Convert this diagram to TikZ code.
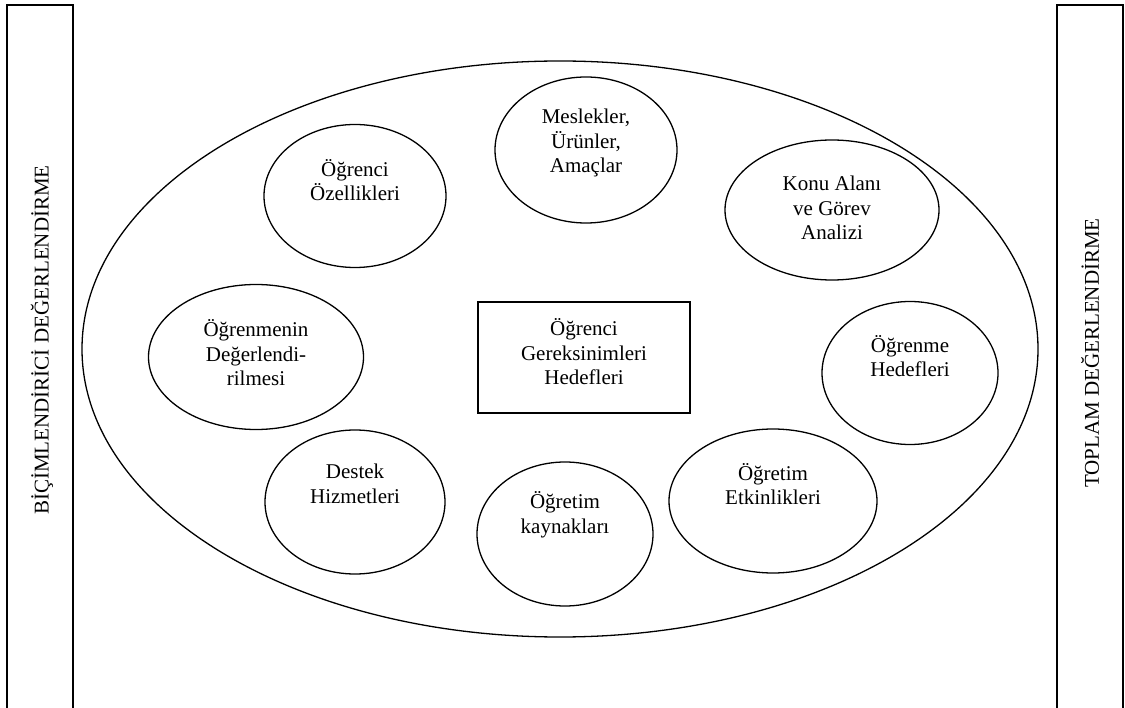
\documentclass[tikz,border=0pt]{standalone}
\usepackage{fontspec}
\setmainfont{Liberation Serif}
\usetikzlibrary{shapes.geometric}
\begin{document}
\begin{tikzpicture}[x=1pt,y=-1pt,
  bubble/.style 2 args={draw,ellipse,line width=1.3pt,inner sep=0pt,
    minimum width=#1,minimum height=#2},
  caption/.style={align=center,inner sep=0pt,font=\fontsize{21}{24.5}\selectfont},
  sidebox/.style={line width=2pt},
  sidetext/.style={rotate=90,inner sep=0pt,font=\fontsize{21}{24.5}\selectfont}]
\useasboundingbox (0,0) rectangle (1125,708);

% evaluation bands at both sides
\draw[sidebox] (7,708) -- (7,5) -- (73,5) -- (73,708);
\draw[sidebox] (1057,708) -- (1057,5) -- (1123,5) -- (1123,708);
\node[sidetext] (formative) at (42,340) {BİÇİMLENDİRİCİ DEĞERLENDİRME};
\node[sidetext] (summative) at (1090,353) {TOPLAM DEĞERLENDİRME};

% enclosing ellipse
\node[bubble={956}{576}] (outer) at (560,349) {};

% central box
\node[draw,line width=1.3pt,minimum width=212,minimum height=111,inner sep=0pt]
  (needs) at (584,357.5) {};
\node[caption] (needs-t) at (584,352) {Öğrenci\\Gereksinimleri\\Hedefleri};

% surrounding planning elements
\node[bubble={182}{146}] (meslek) at (586,150) {};
\node[caption] (meslek-t) at (586,143) {Meslekler,\\Ürünler,\\Amaçlar};

\node[bubble={182}{143}] (ozellik) at (355,196) {};
\node[caption] (ozellik-t) at (355,180) {Öğrenci\\Özellikleri};

\node[bubble={214}{140}] (konu) at (832,210) {};
\node[caption] (konu-t) at (832,208) {Konu Alanı\\ve Görev\\Analizi};

\node[bubble={215}{145}] (degerl) at (256,357) {};
\node[caption] (degerl-t) at (256,353) {Öğrenmenin\\Değerlendi-\\rilmesi};

\node[bubble={176}{143}] (hedef) at (910,373) {};
\node[caption] (hedef-t) at (910,356) {Öğrenme\\Hedefleri};

\node[bubble={180}{144}] (destek) at (355,502) {};
\node[caption] (destek-t) at (355,484) {Destek\\Hizmetleri};

\node[bubble={176}{144}] (kaynak) at (565,534) {};
\node[caption] (kaynak-t) at (565,515) {Öğretim\\kaynakları};

\node[bubble={208}{144}] (etkin) at (773,501) {};
\node[caption] (etkin-t) at (773,484) {Öğretim\\Etkinlikleri};
\end{tikzpicture}
\end{document}
